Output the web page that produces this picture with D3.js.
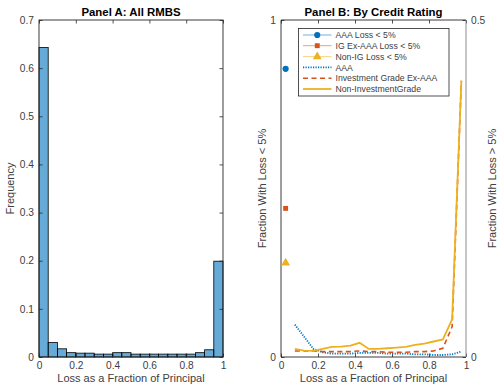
<!DOCTYPE html>
<html>
<head>
<meta charset="utf-8">
<script src="https://cdn.jsdelivr.net/npm/d3@7"></script>
<style>
  html, body { margin: 0; padding: 0; background: #fff; }
  svg text { font-family: "Liberation Sans", Arial, sans-serif; }
</style>
</head>
<body>
<svg id="chart" width="499" height="384"></svg>
<script>
// Panel A: histogram of losses (bin starts, width 0.05)
const binStarts = [0, 0.05, 0.10, 0.15, 0.20, 0.25, 0.30, 0.35, 0.40, 0.45,
                   0.50, 0.55, 0.60, 0.65, 0.70, 0.75, 0.80, 0.85, 0.90, 0.95];
const binWidth = 0.05;
const frequency = [0.643, 0.030, 0.017, 0.009, 0.008, 0.008, 0.006, 0.006, 0.009, 0.009,
                   0.006, 0.006, 0.006, 0.006, 0.006, 0.006, 0.006, 0.009, 0.015, 0.199];

// Panel B: share of tranches with loss < 5% (left axis)
const lowLossCats = ["AAA Loss < 5%", "IG Ex-AAA Loss < 5%", "Non-IG Loss < 5%"];
const lowLossX = [0.025, 0.025, 0.025];
const lowLossShare = [0.855, 0.441, 0.279];

// Panel B: loss distribution above 5% (right axis)
const lossPoints = [0.075, 0.125, 0.175, 0.225, 0.275, 0.325, 0.375, 0.425, 0.475, 0.525,
                    0.575, 0.625, 0.675, 0.725, 0.775, 0.825, 0.875, 0.925, 0.975];
const aaaShare = [0.048, 0.030, 0.012, 0.007, 0.005, 0.005, 0.005, 0.006, 0.006, 0.006,
                  0.005, 0.005, 0.005, 0.004, 0.004, 0.003, 0.003, 0.004, 0.008];
const igShare = [0.009, 0.009, 0.009, 0.008, 0.008, 0.008, 0.008, 0.009, 0.008, 0.008,
                 0.007, 0.007, 0.007, 0.008, 0.008, 0.009, 0.013, 0.045, 0.410];
const nonIgShare = [0.012, 0.0094, 0.009, 0.012, 0.015, 0.0155, 0.017, 0.021, 0.012, 0.012,
                    0.013, 0.014, 0.015, 0.018, 0.020, 0.023, 0.026, 0.056, 0.410];
const lineNames = ["AAA", "Investment Grade Ex-AAA", "Non-InvestmentGrade"];

const xTicks = [0, 0.2, 0.4, 0.6, 0.8, 1];
const freqTicks = [0, 0.1, 0.2, 0.3, 0.4, 0.5, 0.6, 0.7];
const leftTicksB = [0, 1];
const rightTicksB = [0, 0.5];

const blue = "#0072BD", red = "#D95319", yellow = "#EDB120";
const axisColor = "#262626", labelColor = "#404040";
const tickFont = 10.2, labelFont = 11, titleFont = 11.4, legendFont = 8.7;
const svg = d3.select("#chart");
svg.append("rect").attr("width", 499).attr("height", 384).attr("fill", "#fff");

function styleAxis(g, color) {
  g.select(".domain").remove();
  g.selectAll(".tick line").attr("stroke", color || axisColor).attr("stroke-width", 0.8);
  g.selectAll(".tick text").attr("fill", labelColor).attr("font-size", tickFont);
}

// ---------- Panel A ----------
const A = { l: 39, r: 223, t: 20, b: 357 };
const xA = d3.scaleLinear().domain([0, 1]).range([A.l, A.r]);
const yA = d3.scaleLinear().domain([0, 0.7]).range([A.b, A.t]);
const gA = svg.append("g");

gA.selectAll("rect.bar").data(frequency).join("rect")
  .attr("class", "bar")
  .attr("x", (d, i) => xA(binStarts[i]))
  .attr("width", (d, i) => xA(binStarts[i] + binWidth) - xA(binStarts[i]))
  .attr("y", d => yA(d))
  .attr("height", d => yA(0) - yA(d))
  .attr("fill", blue).attr("fill-opacity", 0.6)
  .attr("stroke", "#000").attr("stroke-width", 0.8);

gA.append("g").attr("transform", `translate(0,${A.b})`)
  .call(d3.axisBottom(xA).tickValues(xTicks).tickFormat(d3.format("~g")).tickSizeInner(-3.5).tickPadding(4.5))
  .call(styleAxis);
gA.append("g").attr("transform", `translate(0,${A.t})`)
  .call(d3.axisTop(xA).tickValues(xTicks).tickFormat("").tickSizeInner(-3.5))
  .call(styleAxis);
gA.append("g").attr("transform", `translate(${A.l},0)`)
  .call(d3.axisLeft(yA).tickValues(freqTicks).tickFormat(d3.format("~g")).tickSizeInner(-3.5).tickPadding(5))
  .call(styleAxis);
gA.append("g").attr("transform", `translate(${A.r},0)`)
  .call(d3.axisRight(yA).tickValues(freqTicks).tickFormat("").tickSizeInner(-3.5))
  .call(styleAxis);
gA.append("rect").attr("x", A.l).attr("y", A.t).attr("width", A.r - A.l).attr("height", A.b - A.t)
  .attr("fill", "none").attr("stroke", axisColor).attr("stroke-width", 0.9);

gA.append("text").attr("x", (A.l + A.r) / 2).attr("y", 15.5).attr("text-anchor", "middle")
  .attr("font-size", titleFont).attr("font-weight", "bold").attr("fill", "#000").text("Panel A: All RMBS");
gA.append("text").attr("x", (A.l + A.r) / 2).attr("y", 381.5).attr("text-anchor", "middle")
  .attr("font-size", labelFont).attr("fill", labelColor).text("Loss as a Fraction of Principal");
gA.append("text").attr("transform", `translate(14,${(A.t + A.b) / 2}) rotate(-90)`)
  .attr("text-anchor", "middle").attr("font-size", labelFont).attr("fill", labelColor).text("Frequency");

// ---------- Panel B ----------
const B = { l: 281, r: 466, t: 20, b: 357 };
const xB = d3.scaleLinear().domain([0, 1]).range([B.l, B.r]);
const yL = d3.scaleLinear().domain([0, 1]).range([B.b, B.t]);
const yR = d3.scaleLinear().domain([0, 0.5]).range([B.b, B.t]);
const gB = svg.append("g");

gB.append("g").attr("transform", `translate(0,${B.b})`)
  .call(d3.axisBottom(xB).tickValues(xTicks).tickFormat(d3.format("~g")).tickSizeInner(-3.5).tickPadding(4.5))
  .call(styleAxis);
gB.append("g").attr("transform", `translate(0,${B.t})`)
  .call(d3.axisTop(xB).tickValues(xTicks).tickFormat("").tickSizeInner(-3.5))
  .call(styleAxis);
gB.append("g").attr("transform", `translate(${B.l},0)`)
  .call(d3.axisLeft(yL).tickValues(leftTicksB).tickFormat(d3.format("~g")).tickSizeInner(-3.5).tickPadding(5))
  .call(styleAxis);
gB.append("g").attr("transform", `translate(${B.r},0)`)
  .call(d3.axisRight(yR).tickValues(rightTicksB).tickFormat(d3.format("~g")).tickSizeInner(-3.5).tickPadding(5))
  .call(styleAxis);
gB.append("line").attr("x1", B.l).attr("x2", B.l).attr("y1", B.t).attr("y2", B.b)
  .attr("stroke", axisColor).attr("stroke-width", 0.9);
gB.append("line").attr("x1", B.l).attr("x2", B.r).attr("y1", B.b).attr("y2", B.b)
  .attr("stroke", axisColor).attr("stroke-width", 0.9);
gB.append("line").attr("x1", B.l).attr("x2", B.r).attr("y1", B.t).attr("y2", B.t)
  .attr("stroke", axisColor).attr("stroke-width", 0.9);
gB.append("line").attr("x1", B.r).attr("x2", B.r).attr("y1", B.t).attr("y2", B.b)
  .attr("stroke", "#8c8c8c").attr("stroke-width", 1);

// loss-distribution lines on the right axis
const lineGen = d3.line().x((d, i) => xB(lossPoints[i])).y(d => yR(d));
const seriesLines = [
  { vals: aaaShare, color: blue, dash: "1.2,1.3", width: 1.8 },
  { vals: igShare, color: red, dash: "5,3.5", width: 1.6 },
  { vals: nonIgShare, color: yellow, dash: null, width: 1.8 }
];
seriesLines.forEach(s => {
  gB.append("path").datum(s.vals).attr("d", lineGen)
    .attr("fill", "none").attr("stroke", s.color).attr("stroke-width", s.width)
    .attr("stroke-dasharray", s.dash);
});

// loss < 5% markers on the left axis
const markerSym = [d3.symbolCircle, d3.symbolSquare, d3.symbolTriangle];
const markerSize = [30, 24, 34];
const markerCol = [blue, red, yellow];
lowLossShare.forEach((v, i) => {
  gB.append("path").attr("d", d3.symbol(markerSym[i], markerSize[i])())
    .attr("transform", `translate(${xB(lowLossX[i])},${yL(v)})`)
    .attr("fill", markerCol[i]);
});

gB.append("text").attr("x", (B.l + B.r) / 2).attr("y", 15.5).attr("text-anchor", "middle")
  .attr("font-size", titleFont).attr("font-weight", "bold").attr("fill", "#000").text("Panel B: By Credit Rating");
gB.append("text").attr("x", (B.l + B.r) / 2).attr("y", 381.5).attr("text-anchor", "middle")
  .attr("font-size", labelFont).attr("fill", labelColor).text("Loss as a Fraction of Principal");
gB.append("text").attr("transform", `translate(266,${(B.t + B.b) / 2}) rotate(-90)`)
  .attr("text-anchor", "middle").attr("font-size", labelFont).attr("fill", labelColor).text("Fraction With Loss < 5%");
gB.append("text").attr("transform", `translate(496,${(B.t + B.b) / 2}) rotate(-90)`)
  .attr("text-anchor", "middle").attr("font-size", labelFont).attr("fill", labelColor).text("Fraction With Loss > 5%");

// legend
const leg = gB.append("g");
leg.append("rect").attr("x", 298.5).attr("y", 28.5).attr("width", 150.5).attr("height", 67.5)
  .attr("fill", "#fff").attr("stroke", axisColor).attr("stroke-width", 0.8);
const legRowY = [35, 45.7, 56.6, 67.4, 78.2, 89];
const legX0 = 303, legX1 = 331.5, legTextX = 335.5;
lowLossCats.forEach((name, i) => {
  const y = legRowY[i];
  leg.append("line").attr("x1", legX0).attr("x2", legX1).attr("y1", y).attr("y2", y)
    .attr("stroke", markerCol[i]).attr("stroke-opacity", 0.55).attr("stroke-width", 1);
  leg.append("path").attr("d", d3.symbol(markerSym[i], markerSize[i])())
    .attr("transform", `translate(${(legX0 + legX1) / 2},${y})`).attr("fill", markerCol[i]);
  leg.append("text").attr("x", legTextX).attr("y", y + 3.1).attr("font-size", legendFont)
    .attr("fill", labelColor).text(name);
});
lineNames.forEach((name, i) => {
  const y = legRowY[i + 3];
  const s = seriesLines[i];
  leg.append("line").attr("x1", legX0).attr("x2", legX1).attr("y1", y).attr("y2", y)
    .attr("stroke", s.color).attr("stroke-width", s.width).attr("stroke-dasharray", s.dash);
  leg.append("text").attr("x", legTextX).attr("y", y + 3.1).attr("font-size", legendFont)
    .attr("fill", labelColor).text(name);
});
</script>
</body>
</html>
